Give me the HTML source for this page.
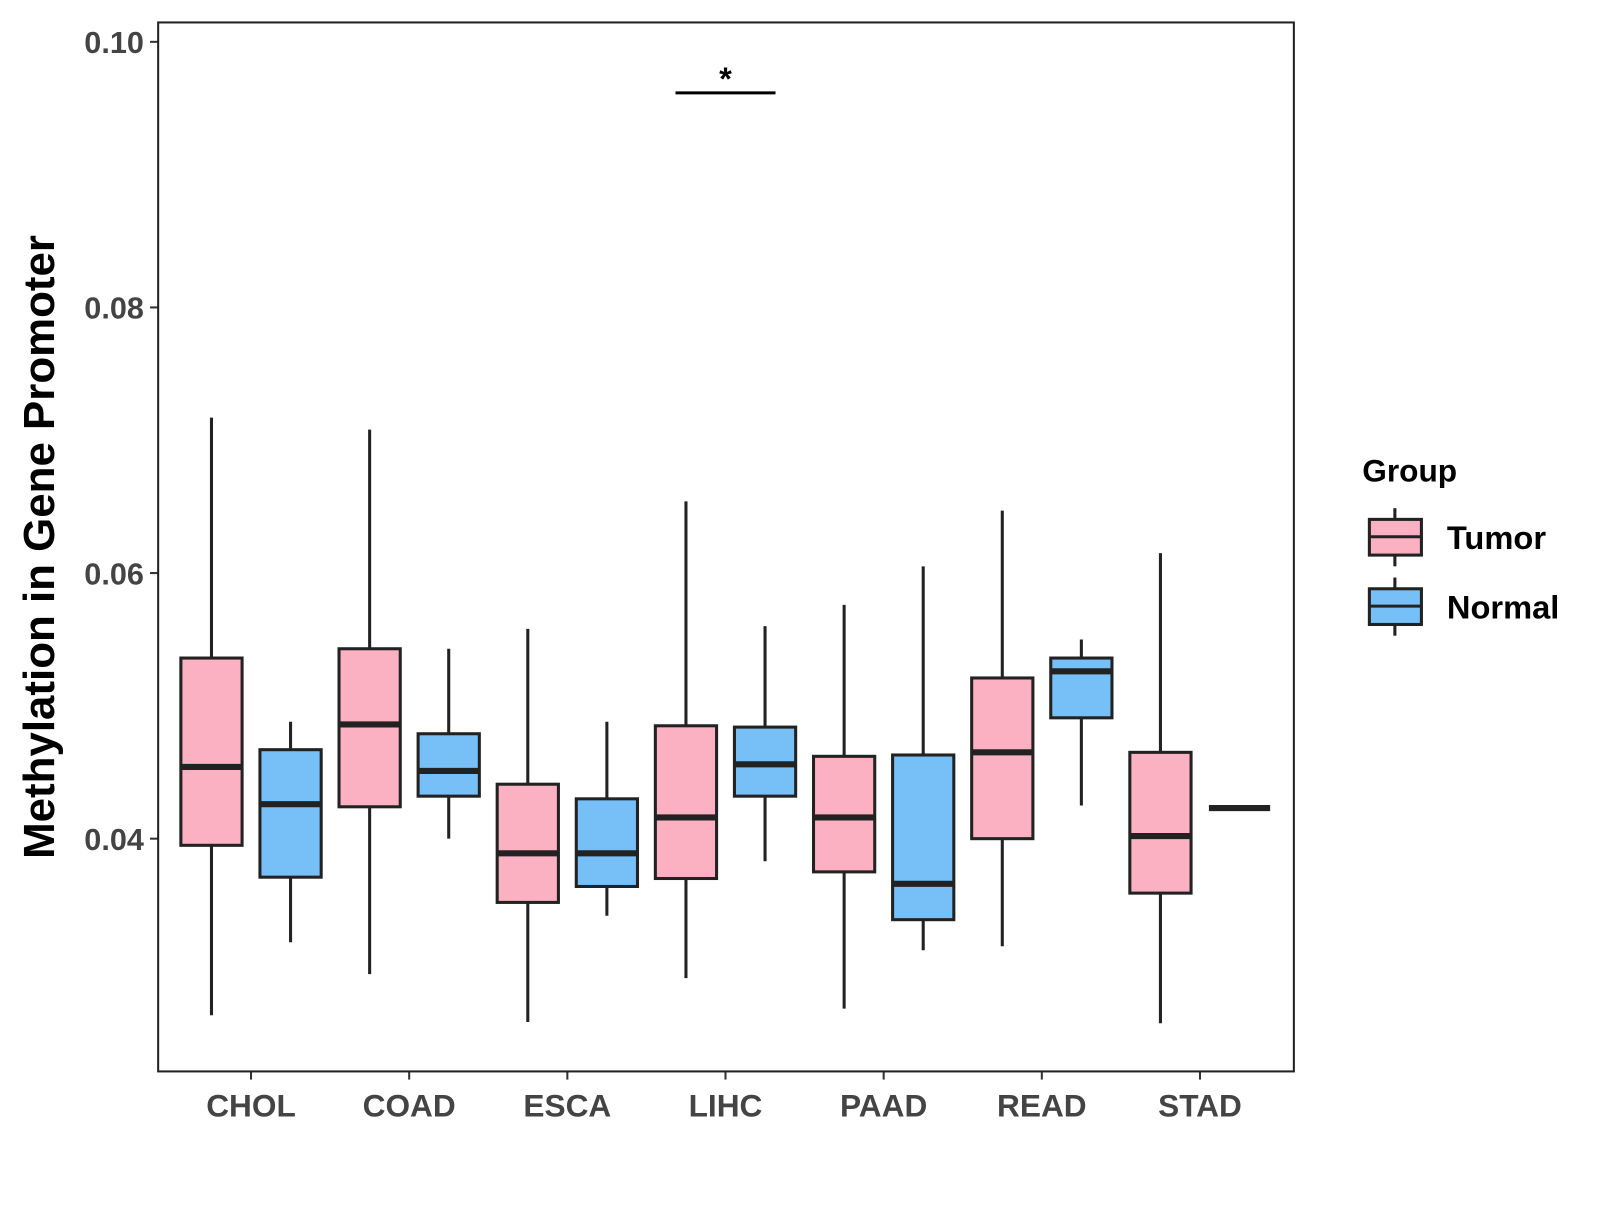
<!DOCTYPE html>
<html><head><meta charset="utf-8"><style>
body{margin:0;background:#fff;}
svg text{font-family:"Liberation Sans",Arial,sans-serif;font-weight:bold;}
</style></head><body>
<svg id="chart" width="1600" height="1200" xmlns="http://www.w3.org/2000/svg">
<rect x="0" y="0" width="1600" height="1200" fill="#fff"/>
<g transform="scale(1.0204)">
<g id="plot"></g>
<text transform="translate(53,536) rotate(-90)" text-anchor="middle" font-size="43" fill="#000">Methylation in Gene Promoter</text>
<g>
<text x="1335" y="472" font-size="31" fill="#000">Group</text>
<g>
<line x1="1367" y1="498" x2="1367" y2="555" stroke="#222" stroke-width="3"/>
<rect x="1342" y="509" width="51" height="35" fill="#FBB1C2" stroke="#222" stroke-width="3"/>
<line x1="1342" y1="526" x2="1393" y2="526" stroke="#222" stroke-width="3"/>
<text x="1418" y="538" font-size="32" fill="#000">Tumor</text></g>
<g>
<line x1="1367" y1="566" x2="1367" y2="623" stroke="#222" stroke-width="3"/>
<rect x="1342" y="577" width="51" height="35" fill="#76C0F7" stroke="#222" stroke-width="3"/>
<line x1="1342" y1="594" x2="1393" y2="594" stroke="#222" stroke-width="3"/>
<text x="1418" y="606" font-size="32" fill="#000">Normal</text></g>
</g>
</g>
</svg>
<script>
const categories=["CHOL","COAD","ESCA","LIHC","PAAD","READ","STAD"];
// [whiskerHigh, q3, median, q1, whiskerLow]
const tumorStats=[[0.0717,0.0536,0.0454,0.0395,0.0267],[0.0708,0.0543,0.0486,0.0424,0.0298],[0.0558,0.0441,0.0389,0.0352,0.0262],[0.0654,0.0485,0.0416,0.0370,0.0295],[0.0576,0.0462,0.0416,0.0375,0.0272],[0.0647,0.0521,0.0465,0.0400,0.0319],[0.0615,0.0465,0.0402,0.0359,0.0261]];
const normalStats=[[0.0488,0.0467,0.0426,0.0371,0.0322],[0.0543,0.0479,0.0451,0.0432,0.0400],[0.0488,0.0430,0.0389,0.0364,0.0342],[0.0560,0.0484,0.0456,0.0432,0.0383],[0.0605,0.0463,0.0366,0.0339,0.0316],[0.0550,0.0536,0.0526,0.0491,0.0425],[0.0423,0.0423,0.0423,0.0423,0.0423]];
const yTicks=[0.04,0.06,0.08,0.10];
const yTickLabels=["0.04","0.06","0.08","0.10"];
const NS="http://www.w3.org/2000/svg";
const L=155,R=1268,T=22,B=1050;
function yScale(v){return 41+(0.10-v)*13015;}
function xScale(i){return 246+i*155;}
const g=document.getElementById('plot');
function mk(tag,attrs,parent){const e=document.createElementNS(NS,tag);for(const k in attrs)e.setAttribute(k,attrs[k]);(parent||g).appendChild(e);return e;}
yTicks.forEach((t,i)=>{const y=yScale(t);
 const tk=mk('line',{x1:L-8,x2:L,y1:y,y2:y,stroke:'#333','stroke-width':2});
 
 
 const tx=mk('text',{x:L-14,y:y+11,'text-anchor':'end','font-size':30,fill:'#444'});
 tx.textContent=yTickLabels[i];
 
 
});
categories.forEach((c,i)=>{const x=xScale(i);
 mk('line',{x1:x,x2:x,y1:B,y2:B+8,stroke:'#333','stroke-width':2});
 const tx=mk('text',{x:x,y:B+44,'text-anchor':'middle','font-size':31,fill:'#444'});
 tx.textContent=c;
 
 
});
function box(s,cx,fill,name){
 const grp=mk('g',{});
 
 
 const w=30;
 mk('line',{x1:cx,x2:cx,y1:yScale(s[0]),y2:yScale(s[4]),stroke:'#222','stroke-width':3},grp);
 mk('rect',{x:cx-w,y:yScale(s[1]),width:2*w,height:Math.max(0,yScale(s[3])-yScale(s[1])),fill:fill,stroke:'#222','stroke-width':3},grp);
 mk('line',{x1:cx-w,x2:cx+w,y1:yScale(s[2]),y2:yScale(s[2]),stroke:'#222','stroke-width':6},grp);
}
categories.forEach((c,i)=>{
 box(tumorStats[i],xScale(i)-38.75,'#FBB1C2','box-tumor-'+c.toLowerCase());
 box(normalStats[i],xScale(i)+38.75,'#76C0F7','box-normal-'+c.toLowerCase());
});
const sig=mk('line',{x1:662,x2:760,y1:91,y2:91,stroke:'#000','stroke-width':3});


const st=mk('text',{x:711,y:88,'text-anchor':'middle','font-size':32,fill:'#000'});
st.textContent='*';


const fr=mk('rect',{x:L,y:T,width:R-L,height:B-T,fill:'none',stroke:'#222','stroke-width':2});


</script>
</body></html>
